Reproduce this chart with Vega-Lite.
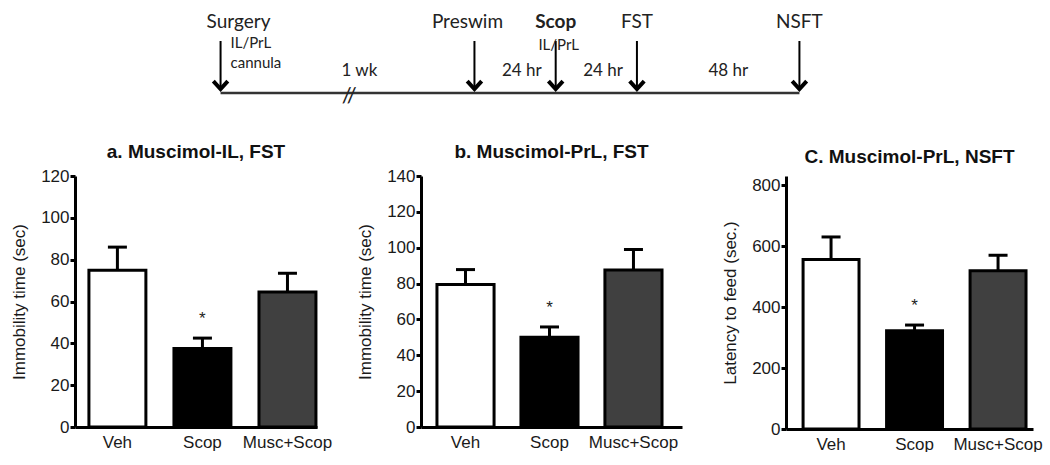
{
  "$schema": "https://vega.github.io/schema/vega-lite/v6.json",
  "background": "white",
  "padding": {"left": 10, "top": 0, "right": 0, "bottom": 0},
  "config": {
    "view": {"stroke": null},
    "font": "Liberation Sans",
    "axis": {
      "domainColor": "black", "domainWidth": 3, "tickColor": "black", "tickWidth": 3, "tickSize": 5,
      "labelFontSize": 17, "labelColor": "#1a1a1a", "labelFont": "Liberation Sans", "labelPadding": 1, "labelOverlap": false,
      "titleFontSize": 17, "titleFontWeight": "normal", "titleColor": "#1a1a1a", "titleFont": "Liberation Sans",
      "grid": false
    },
    "axisX": {"ticks": false, "labelPadding": 7, "labelAngle": 0},
    "axisY": {"titlePadding": 12},
    "title": {"fontSize": 19, "fontWeight": "bold", "color": "#111", "font": "Liberation Sans", "frame": "group", "anchor": "middle"}
  },
  "datasets": {
    "events": [
      {"event": "Surgery", "t": -75, "note": "IL/PrL\ncannula"},
      {"event": "Preswim", "t": 0, "note": ""},
      {"event": "Scop", "t": 24, "note": "IL/PrL"},
      {"event": "FST", "t": 48, "note": ""},
      {"event": "NSFT", "t": 96, "note": ""}
    ],
    "intervals": [
      {"label": "1 wk", "t": -34},
      {"label": "24 hr", "t": 14},
      {"label": "24 hr", "t": 38},
      {"label": "48 hr", "t": 75}
    ],
    "fst_il": [
      {"group": "Veh", "mean": 75, "upper": 86, "sig": ""},
      {"group": "Scop", "mean": 37.5, "upper": 42.5, "sig": "*"},
      {"group": "Musc+Scop", "mean": 64.5, "upper": 73.5, "sig": ""}
    ],
    "fst_prl": [
      {"group": "Veh", "mean": 79.5, "upper": 87.8, "sig": ""},
      {"group": "Scop", "mean": 50, "upper": 55.8, "sig": "*"},
      {"group": "Musc+Scop", "mean": 87.6, "upper": 99, "sig": ""}
    ],
    "nsft_prl": [
      {"group": "Veh", "mean": 556, "upper": 630, "sig": ""},
      {"group": "Scop", "mean": 322, "upper": 341, "sig": "*"},
      {"group": "Musc+Scop", "mean": 519, "upper": 570, "sig": ""}
    ]
  },
  "bounds": "flush",
  "spacing": 76,
  "vconcat": [
    {
      "width": 958,
      "height": 100,
      "layer": [
        {
          "data": {"values": [{"start": -75, "end": 96}]},
          "mark": {"type": "rule", "strokeWidth": 2.5, "color": "#333"},
          "encoding": {
            "x": {"field": "start", "type": "quantitative", "scale": {"domain": [-118, 165], "nice": false, "zero": false}, "axis": null},
            "x2": {"field": "end"},
            "y": {"datum": 93, "type": "quantitative", "scale": {"domain": [0, 100], "reverse": true}, "axis": null}
          }
        },
        {
          "data": {"name": "events"},
          "mark": {"type": "rule", "strokeWidth": 2, "color": "black"},
          "encoding": {
            "x": {"field": "t", "type": "quantitative"},
            "y": {"datum": 41, "type": "quantitative"},
            "y2": {"datum": 88}
          }
        },
        {
          "data": {"name": "events"},
          "mark": {"type": "point", "shape": "M -1 -1.1 L 0 0 L 1 -1.1", "filled": false, "size": 210, "stroke": "black", "strokeWidth": 4, "opacity": 1},
          "encoding": {
            "x": {"field": "t", "type": "quantitative"},
            "y": {"datum": 89, "type": "quantitative"}
          }
        },
        {
          "data": {"name": "events"},
          "transform": [{"filter": "datum.event == 'Surgery'"}],
          "mark": {"type": "text", "font": "Lato", "fontSize": 19, "align": "left", "dx": -14, "baseline": "middle", "color": "#222"},
          "encoding": {
            "x": {"field": "t", "type": "quantitative"},
            "y": {"datum": 22, "type": "quantitative"},
            "text": {"field": "event"}
          }
        },
        {
          "data": {"name": "events"},
          "transform": [{"filter": "datum.event == 'Preswim'"}],
          "mark": {"type": "text", "font": "Lato", "fontSize": 19, "align": "center", "dx": -7, "baseline": "middle", "color": "#222"},
          "encoding": {
            "x": {"field": "t", "type": "quantitative"},
            "y": {"datum": 22, "type": "quantitative"},
            "text": {"field": "event"}
          }
        },
        {
          "data": {"name": "events"},
          "transform": [{"filter": "datum.event == 'FST' || datum.event == 'NSFT'"}],
          "mark": {"type": "text", "font": "Lato", "fontSize": 19, "align": "center", "baseline": "middle", "color": "#222"},
          "encoding": {
            "x": {"field": "t", "type": "quantitative"},
            "y": {"datum": 22, "type": "quantitative"},
            "text": {"field": "event"}
          }
        },
        {
          "data": {"name": "events"},
          "transform": [{"filter": "datum.event == 'Scop'"}],
          "mark": {"type": "text", "font": "Lato", "fontSize": 19, "fontWeight": "bold", "align": "center", "baseline": "middle", "color": "#222"},
          "encoding": {
            "x": {"field": "t", "type": "quantitative"},
            "y": {"datum": 22, "type": "quantitative"},
            "text": {"field": "event"}
          }
        },
        {
          "data": {"name": "events"},
          "transform": [{"filter": "datum.event == 'Surgery'"}],
          "mark": {"type": "text", "font": "Lato", "fontSize": 15, "align": "left", "dx": 10, "baseline": "middle", "lineBreak": "\n", "lineHeight": 20, "color": "#222"},
          "encoding": {
            "x": {"field": "t", "type": "quantitative"},
            "y": {"datum": 43, "type": "quantitative"},
            "text": {"field": "note"}
          }
        },
        {
          "data": {"name": "events"},
          "transform": [{"filter": "datum.event == 'Scop'"}],
          "mark": {"type": "text", "font": "Lato", "fontSize": 15, "align": "center", "dx": 3, "baseline": "middle", "color": "#222"},
          "encoding": {
            "x": {"field": "t", "type": "quantitative"},
            "y": {"datum": 45, "type": "quantitative"},
            "text": {"field": "note"}
          }
        },
        {
          "data": {"name": "intervals"},
          "mark": {"type": "text", "font": "Lato", "fontSize": 17, "align": "center", "baseline": "middle", "color": "#222"},
          "encoding": {
            "x": {"field": "t", "type": "quantitative"},
            "y": {"datum": 71, "type": "quantitative"},
            "text": {"field": "label"}
          }
        },
        {
          "data": {"values": [{"label": "//", "t": -37}]},
          "mark": {"type": "text", "font": "Lato", "fontSize": 22, "align": "center", "baseline": "middle", "color": "#222"},
          "encoding": {
            "x": {"field": "t", "type": "quantitative"},
            "y": {"datum": 96, "type": "quantitative"},
            "text": {"field": "label"}
          }
        }
      ]
    },
    {
      "bounds": "flush",
      "spacing": 104,
      "hconcat": [
        {
          "title": {"text": "a. Muscimol-IL, FST", "offset": 5},
          "width": 242,
          "height": 251,
          "data": {"name": "fst_il"},
          "encoding": {
            "x": {"field": "group", "type": "nominal", "sort": ["Veh", "Scop", "Musc+Scop"], "scale": {"paddingInner": 0.33, "paddingOuter": 0.088, "align": 0.93}, "axis": {"title": null}}
          },
          "layer": [
            {
              "mark": {"type": "bar", "stroke": "black", "strokeWidth": 3},
              "encoding": {
                "y": {"field": "mean", "type": "quantitative", "title": "Immobility time (sec)", "scale": {"domain": [0, 120], "nice": false}, "axis": {"values": [0, 20, 40, 60, 80, 100, 120]}},
                "fill": {"field": "group", "type": "nominal", "scale": {"domain": ["Veh", "Scop", "Musc+Scop"], "range": ["white", "black", "#404040"]}, "legend": null}
              }
            },
            {
              "mark": {"type": "rule", "strokeWidth": 3, "color": "black"},
              "encoding": {
                "y": {"field": "mean", "type": "quantitative", "title": "Immobility time (sec)", "axis": {"values": [0, 20, 40, 60, 80, 100, 120]}},
                "y2": {"field": "upper"}
              }
            },
            {
              "mark": {"type": "tick", "thickness": 3, "size": 19, "color": "black", "opacity": 1},
              "encoding": {
                "y": {"field": "upper", "type": "quantitative", "title": "Immobility time (sec)", "axis": {"values": [0, 20, 40, 60, 80, 100, 120]}}
              }
            },
            {
              "mark": {"type": "text", "fontSize": 17, "dy": -14, "baseline": "alphabetic", "color": "#222"},
              "encoding": {
                "y": {"field": "upper", "type": "quantitative", "title": "Immobility time (sec)", "axis": {"values": [0, 20, 40, 60, 80, 100, 120]}},
                "text": {"field": "sig"}
              }
            }
          ]
        },
        {
          "title": {"text": "b. Muscimol-PrL, FST", "offset": 5},
          "width": 261,
          "height": 251,
          "data": {"name": "fst_prl"},
          "encoding": {
            "x": {"field": "group", "type": "nominal", "sort": ["Veh", "Scop", "Musc+Scop"], "scale": {"paddingInner": 0.32, "paddingOuter": 0.214, "align": 0.444}, "axis": {"title": null}}
          },
          "layer": [
            {
              "mark": {"type": "bar", "stroke": "black", "strokeWidth": 3},
              "encoding": {
                "y": {"field": "mean", "type": "quantitative", "title": "Immobility time (sec)", "scale": {"domain": [0, 140], "nice": false}, "axis": {"values": [0, 20, 40, 60, 80, 100, 120, 140]}},
                "fill": {"field": "group", "type": "nominal", "scale": {"domain": ["Veh", "Scop", "Musc+Scop"], "range": ["white", "black", "#404040"]}, "legend": null}
              }
            },
            {
              "mark": {"type": "rule", "strokeWidth": 3, "color": "black"},
              "encoding": {
                "y": {"field": "mean", "type": "quantitative", "title": "Immobility time (sec)", "axis": {"values": [0, 20, 40, 60, 80, 100, 120, 140]}},
                "y2": {"field": "upper"}
              }
            },
            {
              "mark": {"type": "tick", "thickness": 3, "size": 19, "color": "black", "opacity": 1},
              "encoding": {
                "y": {"field": "upper", "type": "quantitative", "title": "Immobility time (sec)", "axis": {"values": [0, 20, 40, 60, 80, 100, 120, 140]}}
              }
            },
            {
              "mark": {"type": "text", "fontSize": 17, "dy": -14, "baseline": "alphabetic", "color": "#222"},
              "encoding": {
                "y": {"field": "upper", "type": "quantitative", "title": "Immobility time (sec)", "axis": {"values": [0, 20, 40, 60, 80, 100, 120, 140]}},
                "text": {"field": "sig"}
              }
            }
          ]
        },
        {
          "title": {"text": "C. Muscimol-PrL, NSFT", "offset": 9},
          "width": 247,
          "height": 253,
          "data": {"name": "nsft_prl"},
          "encoding": {
            "x": {"field": "group", "type": "nominal", "sort": ["Veh", "Scop", "Musc+Scop"], "scale": {"paddingInner": 0.33, "paddingOuter": 0.144, "align": 0.71}, "axis": {"title": null}}
          },
          "layer": [
            {
              "mark": {"type": "bar", "stroke": "black", "strokeWidth": 3},
              "encoding": {
                "y": {"field": "mean", "type": "quantitative", "title": "Latency to feed (sec.)", "scale": {"domain": [0, 830], "nice": false}, "axis": {"values": [0, 200, 400, 600, 800]}},
                "fill": {"field": "group", "type": "nominal", "scale": {"domain": ["Veh", "Scop", "Musc+Scop"], "range": ["white", "black", "#404040"]}, "legend": null}
              }
            },
            {
              "mark": {"type": "rule", "strokeWidth": 3, "color": "black"},
              "encoding": {
                "y": {"field": "mean", "type": "quantitative", "title": "Latency to feed (sec.)", "axis": {"values": [0, 200, 400, 600, 800]}},
                "y2": {"field": "upper"}
              }
            },
            {
              "mark": {"type": "tick", "thickness": 3, "size": 19, "color": "black", "opacity": 1},
              "encoding": {
                "y": {"field": "upper", "type": "quantitative", "title": "Latency to feed (sec.)", "axis": {"values": [0, 200, 400, 600, 800]}}
              }
            },
            {
              "mark": {"type": "text", "fontSize": 17, "dy": -14, "baseline": "alphabetic", "color": "#222"},
              "encoding": {
                "y": {"field": "upper", "type": "quantitative", "title": "Latency to feed (sec.)", "axis": {"values": [0, 200, 400, 600, 800]}},
                "text": {"field": "sig"}
              }
            }
          ]
        }
      ]
    }
  ]
}
